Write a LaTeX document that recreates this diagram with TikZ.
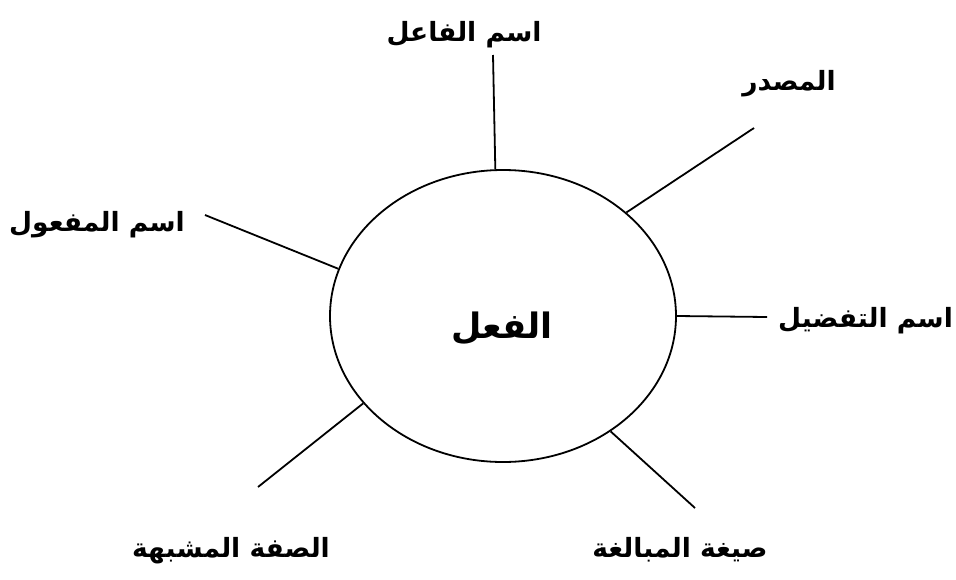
\documentclass[tikz,border=0pt]{standalone}
\usepackage{fontspec}
\TeXXeTstate=1
\newfontfamily\arabicfont[Script=Arabic]{DejaVu Sans}
\usetikzlibrary{shapes.geometric}
\begin{document}
\begin{tikzpicture}[x=1pt,y=-1pt,
  conn/.style={line width=1.8pt},
  lbl/.style={inner sep=0pt,font=\arabicfont\bfseries\fontsize{26.5}{31}\selectfont}]
\useasboundingbox (0,0) rectangle (956,579);
\node[ellipse,draw,line width=1.8pt,minimum width=346pt,minimum height=292pt,inner sep=0pt] (f) at (503,316) {};
\node[lbl,font=\arabicfont\bfseries\fontsize{35}{40}\selectfont] (fl) at (502,328) {\beginR الفعل\endR};
\node[lbl] (l1) at (464,35) {\beginR اسم الفاعل\endR};
\node[lbl] (l2) at (789,84) {\beginR المصدر\endR};
\node[lbl,anchor=east] (l3) at (185,225) {\beginR اسم المفعول\endR};
\node[lbl,anchor=west] (l4) at (778,321) {\beginR اسم التفضيل\endR};
\node[lbl] (l5) at (231,551) {\beginR الصفة المشبهة\endR};
\node[lbl] (l6) at (680,550) {\beginR صيغة المبالغة\endR};
\coordinate (e1) at (493,55);
\coordinate (e2) at (754,128);
\coordinate (e3) at (205,215);
\coordinate (e4) at (767,317);
\coordinate (e5) at (258,487);
\coordinate (e6) at (695,508);
\draw[conn] (f.93.9) -- (e1);
\draw[conn] (f.40.3) -- (e2);
\draw[conn] (f.164.2) -- (e3);
\draw[conn] (f.0) -- (e4);
\draw[conn] (f.212.8) -- (e5);
\draw[conn] (f.313.7) -- (e6);
\end{tikzpicture}
\end{document}
